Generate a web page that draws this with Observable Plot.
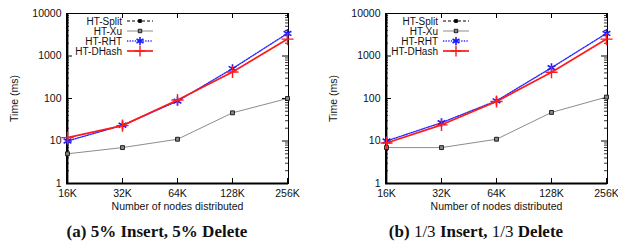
<!DOCTYPE html>
<html>
<head>
<meta charset="utf-8">
<script src="https://cdn.jsdelivr.net/npm/d3@7"></script>
<script src="https://cdn.jsdelivr.net/npm/@observablehq/plot@0.6"></script>
<style>
  html, body { margin: 0; padding: 0; background: #fff; }
  #root { position: relative; width: 618px; height: 246px; overflow: hidden; }
  .panel { position: absolute; top: 0; }
  .caption { position: absolute; top: 222px; font-family: "Liberation Serif", serif; font-weight: bold; font-size: 17px; line-height: 20px; white-space: nowrap; transform: translateX(-50%); color: #111; }
  .caption .m { font-weight: normal; }
  .legend { position: absolute; top: 0; left: 0; }
</style>
</head>
<body>
<div id="root"></div>
<script>
const nodes = ["16K", "32K", "64K", "128K", "256K"];
const seriesNames = ["HT-Split", "HT-Xu", "HT-RHT", "HT-DHash"];
const yTicks = [1, 10, 100, 1000, 10000];

// Panel (a): 5% Insert, 5% Delete
const a_split = [];
const a_xu = [5, 7, 11, 46, 100];
const a_rht = [10, 23.5, 87, 505, 3400];
const a_dhash = [12, 23, 92, 420, 2500];

// Panel (b): 1/3 Insert, 1/3 Delete
const b_split = [];
const b_xu = [7, 7, 11, 47, 108];
const b_rht = [10, 27, 88, 530, 3400];
const b_dhash = [9, 24, 85, 415, 2500];

const styles = {
  "HT-Split": {stroke: "#000", width: 1, dash: "3,2", symbol: "square", r: 1.8, fill: "#000", mstroke: "#000", mw: 0.9},
  "HT-Xu": {stroke: "#8c8c8c", width: 1, dash: null, symbol: "square", r: 2.2, fill: "#888", mstroke: "#111", mw: 0.9},
  "HT-RHT": {stroke: "#2a2aff", width: 1.4, dash: "1.3,1.3", symbol: "asterisk", r: 4.2, fill: "none", mstroke: "#1a1aff", mw: 1.6},
  "HT-DHash": {stroke: "#ff1a1a", width: 1.7, dash: null, symbol: "plus", r: 4, fill: "none", mstroke: "#ff1a1a", mw: 1.4}
};

function rows(split, xu, rht, dhash) {
  const out = [];
  const sets = {"HT-Split": split, "HT-Xu": xu, "HT-RHT": rht, "HT-DHash": dhash};
  for (const s of seriesNames) sets[s].forEach((v, i) => out.push({series: s, node: nodes[i], value: v}));
  return out;
}

const minor = [];
for (let d = 1; d < 10000; d *= 10) for (let k = 2; k <= 9; k++) minor.push(d * k);

function panel({data, left, width, marginLeft, marginRight, legendX, legendTextX, caption, captionX}) {
  const height = 215, marginTop = 13, marginBottom = 32;
  const pw = width - marginLeft - marginRight;
  const ph = height - marginTop - marginBottom;
  const marks = [
    Plot.frame({stroke: "#000", strokeWidth: 1}),
    Plot.tickY(yTicks, {y: d => d, insetRight: pw - 6, stroke: "#000", strokeWidth: 1}),
    Plot.tickY(yTicks, {y: d => d, insetLeft: pw - 6, stroke: "#000", strokeWidth: 1}),
    Plot.tickY(minor, {y: d => d, insetRight: pw - 3, stroke: "#000", strokeWidth: 0.8}),
    Plot.tickY(minor, {y: d => d, insetLeft: pw - 3, stroke: "#000", strokeWidth: 0.8}),
    Plot.tickX(nodes, {x: d => d, insetTop: ph - 5, stroke: "#000", strokeWidth: 1}),
    Plot.tickX(nodes, {x: d => d, insetBottom: ph - 5, stroke: "#000", strokeWidth: 1}),
    Plot.ruleY([1], {stroke: "#000", strokeWidth: 1.8}),
    Plot.ruleX([nodes[0]], {stroke: "#000", strokeWidth: 1.8}),
    Plot.axisY({ticks: yTicks, tickFormat: d => String(d), tickSize: 0, tickPadding: 5, fontSize: 10.5,
      label: "Time (ms)", labelAnchor: "center", labelOffset: 56, labelArrow: "none"}),
    Plot.axisX({tickSize: 0, tickPadding: 6, fontSize: 10.5, label: null}),
    Plot.text(["Number of nodes distributed"], {frameAnchor: "bottom", dy: 26, fontSize: 10.5, fill: "#111"})
  ];
  for (const s of seriesNames) {
    const st = styles[s];
    const sd = data.filter(d => d.series === s);
    marks.push(Plot.line(sd, {x: "node", y: "value", stroke: st.stroke, strokeWidth: st.width, strokeDasharray: st.dash}));
    marks.push(Plot.dot(sd, {x: "node", y: "value", symbol: () => st.symbol, r: st.r, fill: st.fill, stroke: st.mstroke, strokeWidth: st.mw}));
  }
  const chart = Plot.plot({
    width, height, marginLeft, marginRight, marginTop, marginBottom,
    style: {fontFamily: "'Liberation Sans', Arial, sans-serif", fontSize: "10.5px", color: "#111", background: "transparent", overflow: "visible"},
    x: {type: "point", domain: nodes, padding: 0, axis: null},
    y: {type: "log", domain: [1, 10000], axis: null},
    marks
  });
  const wrap = document.createElement("div");
  wrap.className = "panel";
  wrap.style.left = left + "px";
  wrap.style.width = width + "px";
  wrap.style.height = height + "px";
  wrap.appendChild(chart);

  // legend overlay
  const lg = d3.create("svg").attr("class", "legend").attr("width", width).attr("height", 70)
    .style("font-family", "'Liberation Sans', Arial, sans-serif").style("font-size", "10px");
  const symMap = {square: d3.symbolSquare, asterisk: d3.symbolAsterisk, plus: d3.symbolPlus};
  seriesNames.forEach((s, i) => {
    const st = styles[s];
    const y = 21 + i * 10;
    lg.append("text").attr("x", legendTextX).attr("y", y).attr("dy", "0.35em").attr("text-anchor", "end").attr("fill", "#111").text(s);
    lg.append("line").attr("x1", legendX).attr("x2", legendX + 26).attr("y1", y).attr("y2", y)
      .attr("stroke", st.stroke).attr("stroke-width", st.width).attr("stroke-dasharray", st.dash);
    const size = Math.PI * st.r * st.r * 0.8;
    lg.append("path").attr("d", d3.symbol(symMap[st.symbol], size)()).attr("transform", `translate(${legendX + 13},${y})`)
      .attr("fill", st.fill).attr("stroke", st.mstroke).attr("stroke-width", st.mw);
  });
  wrap.appendChild(lg.node());
  document.getElementById("root").appendChild(wrap);

  const cap = document.createElement("div");
  cap.className = "caption";
  cap.style.left = captionX + "px";
  cap.innerHTML = caption;
  document.getElementById("root").appendChild(cap);
}

panel({data: rows(a_split, a_xu, a_rht, a_dhash), left: 0, width: 310, marginLeft: 66, marginRight: 22,
  legendX: 127, legendTextX: 122, caption: "(a) 5% Insert, 5% Delete", captionX: 157});
panel({data: rows(b_split, b_xu, b_rht, b_dhash), left: 310, width: 308, marginLeft: 75, marginRight: 11,
  legendX: 133, legendTextX: 128, caption: "(b) <span class='m'>1/3</span> Insert, <span class='m'>1/3</span> Delete", captionX: 476});
</script>
</body>
</html>
